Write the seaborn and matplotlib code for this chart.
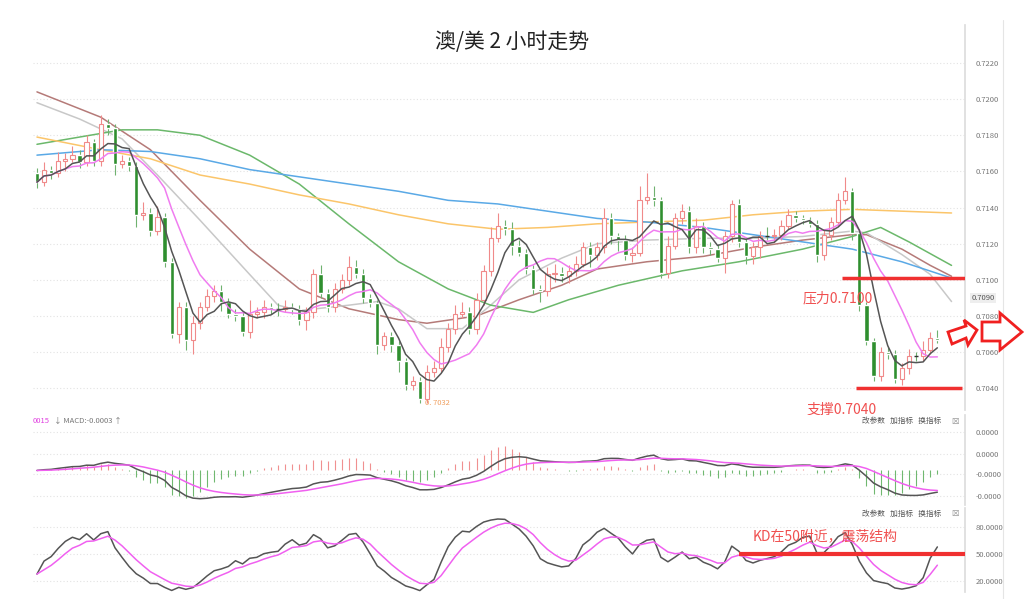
import numpy as np
import pandas as pd
import matplotlib
matplotlib.use("Agg")
import matplotlib.pyplot as plt
import matplotlib.patches as mpatches
import seaborn as sns

sns.set_theme(style="white")
plt.rcParams['font.family'] = ['Noto Sans CJK SC', 'DejaVu Sans']

# ---- data (prices in pips, 7150 = 0.7150) ----
closes = [7154, 7161, 7159, 7166, 7167, 7169, 7165, 7176, 7166, 7186,
          7184, 7164, 7166, 7163, 7136, 7137, 7127, 7135, 7110, 7070,
          7085, 7067, 7076, 7085, 7091, 7094, 7088, 7081, 7080, 7071,
          7081, 7082, 7085, 7084, 7084, 7085, 7084, 7078, 7082, 7103,
          7093, 7085, 7095, 7100, 7107, 7103, 7090, 7087, 7064, 7069,
          7064, 7055, 7042, 7044, 7034, 7049, 7051, 7063, 7073, 7081,
          7082, 7073, 7089, 7105, 7123, 7130, 7128, 7119, 7115, 7106,
          7095, 7094, 7103, 7104, 7102, 7105, 7109, 7118, 7114, 7118,
          7134, 7124, 7122, 7114, 7115, 7144, 7146, 7144, 7104, 7119,
          7134, 7138, 7118, 7130, 7118, 7117, 7112, 7124, 7142, 7121,
          7113, 7118, 7124, 7124, 7125, 7130, 7136, 7134, 7133, 7131,
          7114, 7125, 7132, 7144, 7149, 7126, 7086, 7066, 7047, 7060,
          7059, 7045, 7051, 7058, 7058, 7061, 7068, 7067]
first_open = 7159
up_wick = [3, 4, 2, 5, 3, 5, 3, 4, 2, 5, 3, 2, 3, 2, 2, 6, 3, 6, 2, 2,
           3, 3, 4, 3, 4, 3, 3, 2, 3, 3, 8, 3, 4, 2, 3, 4, 2, 2, 3, 3,
           5, 2, 3, 3, 6, 4, 3, 2, 2, 2, 2, 2, 2, 3, 2, 4, 4, 5, 3, 5,
           6, 3, 4, 3, 6, 7, 3, 4, 3, 2, 2, 2, 4, 5, 3, 3, 4, 3, 3, 3,
           6, 3, 2, 3, 3, 8, 13, 6, 2, 5, 3, 4, 3, 4, 2, 3, 3, 3, 2, 3,
           2, 3, 3, 5, 3, 3, 3, 2, 2, 2, 2, 3, 3, 4, 8, 2, 2, 2, 2, 3,
           3, 2, 3, 4, 2, 5, 3, 4]
dn_wick = [3, 2, 3, 2, 6, 2, 3, 2, 3, 3, 4, 6, 2, 3, 7, 3, 3, 2, 3, 2,
           5, 6, 8, 3, 2, 3, 5, 2, 3, 2, 3, 2, 3, 3, 4, 2, 3, 3, 6, 3,
           3, 3, 3, 2, 3, 2, 3, 2, 5, 3, 4, 6, 3, 3, 2, 2, 3, 2, 3, 3,
           2, 3, 3, 3, 3, 2, 3, 5, 2, 3, 3, 6, 3, 4, 3, 4, 3, 2, 7, 3,
           3, 4, 6, 3, 4, 2, 2, 3, 3, 3, 2, 3, 3, 3, 3, 3, 2, 8, 3, 3,
           4, 4, 6, 2, 3, 3, 2, 2, 2, 2, 4, 3, 3, 2, 2, 4, 3, 2, 3, 3,
           3, 2, 3, 3, 3, 3, 2, 2]

brown_idx = [0, 9, 16, 23, 30, 37, 44, 51, 55, 62, 68, 74, 79, 86, 94, 101, 108, 115, 117, 122, 126, 129]
brown_val = [7204, 7190, 7172, 7144, 7117, 7095, 7084, 7078, 7076, 7080, 7089, 7097, 7106, 7110, 7113, 7118, 7122, 7125, 7125, 7117, 7108, 7102]
gray_idx = [0, 6, 12, 17, 23, 30, 34, 37, 44, 48, 51, 55, 60, 64, 68, 74, 79, 86, 94, 101, 108, 115, 117, 122, 126, 129]
gray_val = [7198, 7189, 7178, 7158, 7133, 7103, 7086, 7083, 7086, 7088, 7084, 7073, 7073, 7086, 7100, 7112, 7120, 7122, 7123, 7123, 7124, 7127, 7126, 7114, 7103, 7088]
green_idx = [0, 6, 12, 17, 23, 30, 37, 44, 51, 58, 64, 70, 75, 82, 91, 99, 108, 115, 119, 123, 129]
green_val = [7175, 7179, 7183, 7183, 7180, 7169, 7153, 7131, 7110, 7095, 7086, 7082, 7089, 7097, 7105, 7110, 7117, 7124, 7129, 7121, 7108]
orange_idx = [0, 9, 16, 23, 30, 37, 44, 51, 58, 65, 72, 79, 86, 94, 101, 108, 115, 122, 129]
orange_val = [7179, 7172, 7167, 7158, 7153, 7147, 7142, 7136, 7131, 7128, 7129, 7131, 7132, 7133, 7136, 7138, 7139, 7138, 7137]
blue_idx = [0, 9, 16, 23, 30, 37, 44, 51, 58, 65, 72, 79, 86, 94, 101, 108, 115, 122, 129]
blue_val = [7169, 7172, 7171, 7167, 7161, 7157, 7153, 7149, 7144, 7142, 7138, 7134, 7132, 7129, 7125, 7121, 7117, 7110, 7101]

price_ticks = [7040, 7060, 7080, 7100, 7120, 7140, 7160, 7180, 7200, 7220]
kd_ticks = [20, 50, 80]

# ---- derived ----
c = np.array(closes) / 10000
o = np.array([first_open] + closes[:-1]) / 10000
h = np.maximum(o, c) + np.array(up_wick) / 10000
l = np.minimum(o, c) - np.array(dn_wick) / 10000
n = len(c)
idx = np.arange(n)
s = pd.Series(c)

fig = plt.figure(figsize=(10.24, 5.99), dpi=100)
W, H = 1024, 599
def rect(x0, y0, x1, y1):
    return [x0 / W, 1 - y1 / H, (x1 - x0) / W, (y1 - y0) / H]

ax = fig.add_axes(rect(33, 25, 965, 410))
ax2 = fig.add_axes(rect(33, 415, 965, 505))
ax3 = fig.add_axes(rect(33, 508, 965, 592))
xlim = (-0.56, 130.9)

RED = "#f08a8a"
GRN = "#2f8f2f"
up = c > o
dn = c < o
eq = c == o
ax.vlines(idx[up], l[up], h[up], color=RED, lw=0.8, zorder=3)
ax.vlines(idx[~up], l[~up], h[~up], color="#6fb26f", lw=0.8, zorder=3)
ax.bar(idx[up], (c - o)[up], bottom=o[up], width=0.6, facecolor="white", edgecolor=RED, lw=0.8, zorder=4)
ax.bar(idx[dn], (c - o)[dn], bottom=o[dn], width=0.6, color=GRN, zorder=4)
ax.hlines(c[eq], idx[eq] - 0.3, idx[eq] + 0.3, color="#333", lw=1, zorder=4)

ma5 = s.rolling(5, min_periods=1).mean()
ma10 = s.rolling(10, min_periods=1).mean()
for xi, yv, col in [(brown_idx, brown_val, "#b57a78"), (gray_idx, gray_val, "#c8c8c8"),
                    (green_idx, green_val, "#6bb86b"), (orange_idx, orange_val, "#fbc56a"),
                    (blue_idx, blue_val, "#5aa9e6")]:
    sns.lineplot(x=xi, y=np.array(yv) / 10000, ax=ax, color=col, lw=1.1, zorder=2)
sns.lineplot(x=idx, y=ma10.values, ax=ax, color="#f07cf0", lw=1.1, zorder=5)
sns.lineplot(x=idx, y=ma5.values, ax=ax, color="#555555", lw=1.1, zorder=5)

ax.set_xlim(*xlim)
ax.set_ylim(0.7028, 0.7241)
pt = np.array(price_ticks) / 10000
ax.set_yticks(pt)
ax.set_yticklabels([f"0.{int(p*10000)}" for p in pt])
ax.yaxis.tick_right()
ax.tick_params(axis="y", labelsize=5.5, colors="#777", length=0, pad=8)
ax.set_xticks([])
ax.grid(axis="y", color="#e3e3e3", ls=(0, (1, 2)), lw=0.8)
for sp in ["top", "left", "bottom"]:
    ax.spines[sp].set_visible(False)
ax.spines["right"].set_color("#dddddd")
ax.text(131.8, 0.7090, "0.7090", fontsize=5.5, color="#555", va="center",
        bbox=dict(facecolor="#eeeeee", edgecolor="none", pad=1))

# annotations
ax.hlines(0.7101, 113.5, 130.9, color="#f03030", lw=2.5, zorder=6)
ax.hlines(0.7040, 115.5, 130.5, color="#f03030", lw=2.5, zorder=6)
ax.text(108, 0.7090, "压力0.7100", color="#f05050", fontsize=10, va="center", zorder=7)
ax.text(108.5, 0.7028, "支撑0.7040", color="#f05050", fontsize=10, va="center", zorder=7)
imin = int(np.argmin(l))
ax.text(imin + 0.7, l[imin], "0. 7032", color="#f0a060", fontsize=5.5, va="center")
fig.text(0.5, 1 - 42 / H, "澳/美 2 小时走势", fontsize=15, ha="center", va="center", color="#222")

# arrows
def poly(pts):
    return mpatches.Polygon([(x / W, 1 - y / H) for x, y in pts], closed=True,
                            transform=fig.transFigure, facecolor="white",
                            edgecolor="#f02020", lw=2, zorder=10)
fig.patches.append(poly([(948, 332), (966, 326), (964, 320), (977, 330), (968, 345), (966, 338), (952, 344)]))
fig.patches.append(poly([(982, 322), (1000, 322), (1000, 313), (1022, 332), (1000, 350), (1000, 341), (982, 341)]))

# MACD
ema12 = s.ewm(span=12, adjust=False).mean()
ema26 = s.ewm(span=26, adjust=False).mean()
dif = ema12 - ema26
dea = dif.ewm(span=9, adjust=False).mean()
hist = 2 * (dif - dea)
ax2.vlines(idx[hist > 0], 0, hist[hist > 0], color="#f09090", lw=0.8)
ax2.vlines(idx[hist <= 0], 0, hist[hist <= 0], color="#70b870", lw=0.8)
sns.lineplot(x=idx, y=dif.values, ax=ax2, color="#555", lw=1.1)
sns.lineplot(x=idx, y=dea.values, ax=ax2, color="#f060f0", lw=1.1)
lo, hi = min(dif.min(), dea.min(), hist.min()), max(dif.max(), dea.max(), hist.max())
span = hi - lo
ax2.set_ylim(lo - 0.12 * span, hi + 0.6 * span)
ax2.set_xlim(*xlim)
y0, y1 = ax2.get_ylim()
mt = [y0 + (y1 - y0) * f for f in (0.1, 0.34, 0.57, 0.81)]
ax2.set_yticks(mt)
ax2.set_yticklabels(["-0.0000", "-0.0000", "0.0000", "0.0000"])
ax2.yaxis.tick_right()
ax2.tick_params(axis="y", labelsize=5.5, colors="#777", length=0, pad=8)
ax2.set_xticks([])
ax2.grid(axis="y", color="#e3e3e3", ls=(0, (1, 2)), lw=0.8)
for sp in ["top", "left", "bottom"]:
    ax2.spines[sp].set_visible(False)
ax2.spines["right"].set_color("#dddddd")
ax2.text(0.0, 0.93, "0015", transform=ax2.transAxes, fontsize=5.5, color="#e040e0", va="center")
ax2.text(0.022, 0.93, "↓ MACD:-0.0003 ↑", transform=ax2.transAxes, fontsize=5.5, color="#777", va="center")

# KD
n9_low = pd.Series(l).rolling(9, min_periods=1).min()
n9_high = pd.Series(h).rolling(9, min_periods=1).max()
rsv = 100 * (s - n9_low) / (n9_high - n9_low)
K = rsv.ewm(alpha=1 / 3, adjust=False).mean()
D = K.ewm(alpha=1 / 3, adjust=False).mean()
sns.lineplot(x=idx, y=K.values, ax=ax3, color="#555", lw=1.1)
sns.lineplot(x=idx, y=D.values, ax=ax3, color="#f060f0", lw=1.1)
ax3.set_xlim(*xlim)
ax3.set_ylim(7, 102)
ax3.set_yticks(kd_ticks)
ax3.set_yticklabels([f"{v}.0000" for v in kd_ticks])
ax3.yaxis.tick_right()
ax3.tick_params(axis="y", labelsize=5.5, colors="#777", length=0, pad=8)
ax3.set_xticks([])
ax3.grid(axis="y", color="#e3e3e3", ls=(0, (1, 2)), lw=0.8)
for sp in ["top", "left", "bottom"]:
    ax3.spines[sp].set_visible(False)
ax3.spines["right"].set_color("#dddddd")
ax3.hlines(50, 99, 130.9, color="#f03030", lw=3, zorder=6)
ax3.text(101, 70, "KD在50附近，震荡结构", color="#f05050", fontsize=10, va="center")

for a, yy in [(ax2, 0.93), (ax3, 0.93)]:
    a.text(0.89, yy, "改参数   加指标   换指标", transform=a.transAxes, fontsize=5.5, color="#555", va="center")
    a.text(0.985, yy, "☒", transform=a.transAxes, fontsize=6, color="#888", va="center")

fig.add_artist(plt.Line2D([1003 / W, 1003 / W], [0, 1 - 20 / H], color="#e5e5e5", lw=0.8))
fig.savefig("out.png", dpi=100)
